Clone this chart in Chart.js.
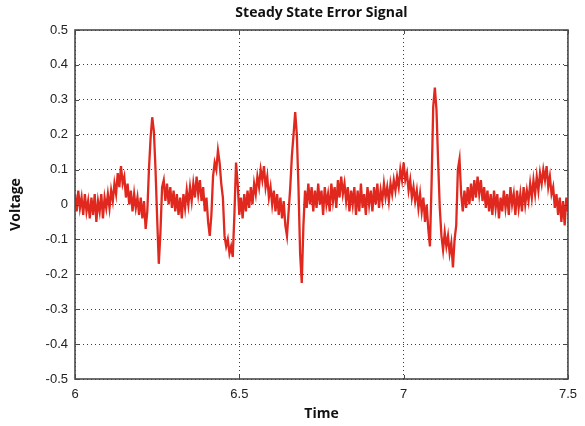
<!DOCTYPE html>
<html>
<head>
<meta charset="utf-8">
<script src="https://cdn.jsdelivr.net/npm/chart.js@4/dist/chart.umd.min.js"></script>
<style>
  html, body { margin: 0; padding: 0; background: #ffffff; }
  #wrap { width: 585px; height: 426px; }
</style>
</head>
<body>
<div id="wrap"><canvas id="c" width="585" height="426"></canvas></div>
<script>
// Sampled error voltage, one sample every 5 ms starting at t = 6 s
const startTime = 6.0;
const sampleStep = 0.005;
const voltage = [
  0.03, -0.02, 0.04, -0.01, 0.02, -0.03, 0.03, -0.02, 0.01, -0.04,
  0.02, -0.03, 0.03, -0.05, 0.01, -0.02, 0.03, -0.04, 0.02, -0.01,
  0.03, -0.01, 0.04, 0.01, 0.06, 0.03, 0.09, 0.05, 0.11, 0.06,
  0.08, 0.02, 0.06, 0.0, 0.04, -0.02, 0.03, -0.01, 0.02, -0.03,
  0.02, -0.04, 0.01, -0.07, -0.02, 0.1, 0.19, 0.25, 0.21, 0.1,
  -0.04, -0.17, -0.08, 0.05, 0.07, 0.01, 0.06, 0.0, 0.05, -0.01,
  0.04, -0.02, 0.03, -0.03, 0.02, -0.04, 0.03, -0.01, 0.04, 0.0,
  0.05, 0.01, 0.06, 0.02, 0.08, 0.03, 0.07, 0.01, 0.05, -0.02,
  0.02, -0.05, -0.09, -0.03, 0.08, 0.12, 0.1, 0.155, 0.12, 0.06,
  0.02, -0.09, -0.12, -0.1, -0.14, -0.12, -0.15, -0.03, 0.12, 0.06,
  -0.03, 0.02, -0.04, 0.03, -0.02, 0.04, -0.01, 0.05, 0.0, 0.06,
  0.03, 0.08, 0.05, 0.1, 0.07, 0.11, 0.05, 0.08, 0.02, 0.05,
  0.0, 0.04, -0.02, 0.03, -0.03, 0.02, -0.04, 0.01, -0.06, -0.09,
  -0.02, 0.05, 0.14, 0.2, 0.265, 0.2, 0.05, -0.14, -0.225, -0.06,
  0.04, -0.01, 0.06, 0.0, 0.05, -0.02, 0.04, -0.01, 0.06, 0.0,
  0.04, -0.03, 0.05, 0.0, 0.03, -0.02, 0.06, 0.01, 0.05, -0.01,
  0.07, 0.02, 0.08, 0.03, 0.06, 0.01, 0.05, -0.02, 0.04, 0.0,
  0.05, -0.03, 0.04, -0.02, 0.06, -0.01, 0.03, -0.03, 0.05, 0.0,
  0.04, -0.02, 0.05, 0.0, 0.06, -0.01, 0.04, 0.01, 0.06, 0.02,
  0.05, 0.01, 0.06, 0.03, 0.07, 0.04, 0.08, 0.05, 0.1, 0.07,
  0.12, 0.07, 0.09, 0.04, 0.07, 0.02, 0.05, 0.01, 0.04, -0.01,
  0.03, -0.02, 0.02, -0.05, 0.0, -0.07, -0.12, 0.06, 0.28, 0.335,
  0.27, 0.12, -0.01, -0.09, -0.13, -0.08, -0.12, -0.09, -0.14, -0.11,
  -0.18, -0.1, -0.06, 0.1, 0.13, 0.03, -0.02, 0.04, -0.01, 0.05,
  0.0, 0.06, 0.01, 0.07, 0.02, 0.08, 0.03, 0.07, 0.01, 0.05,
  -0.01, 0.04, -0.02, 0.03, -0.03, 0.04, -0.01, 0.03, -0.04, 0.02,
  -0.02, 0.04, -0.01, 0.03, -0.03, 0.05, 0.0, 0.03, -0.03, 0.04,
  -0.01, 0.03, -0.02, 0.05, 0.0, 0.04, 0.01, 0.06, 0.02, 0.07,
  0.03, 0.08, 0.04, 0.09, 0.06, 0.1, 0.07, 0.11, 0.05, 0.08,
  0.03, 0.05, -0.01, 0.03, -0.03, 0.02, -0.05, 0.01, -0.06, 0.02, -0.02
];
const timeTicks = [6, 6.5, 7, 7.5];
const voltageTicks = [-0.5, -0.4, -0.3, -0.2, -0.1, 0, 0.1, 0.2, 0.3, 0.4, 0.5];

const points = voltage.map((v, i) => ({ x: startTime + i * sampleStep, y: v }));

// Solid box round the plot with short inward tick marks on every side
const plotFrame = {
  id: 'plotFrame',
  afterDatasetsDraw(chart) {
    const { ctx, chartArea: a, scales: { x, y } } = chart;
    ctx.save();
    ctx.strokeStyle = '#4a4a4a';
    ctx.lineWidth = 1;
    ctx.beginPath();
    timeTicks.forEach(v => {
      const px = Math.round(x.getPixelForValue(v)) + 0.5;
      ctx.moveTo(px, a.top); ctx.lineTo(px, a.top + 4);
      ctx.moveTo(px, a.bottom); ctx.lineTo(px, a.bottom - 4);
    });
    voltageTicks.forEach(v => {
      const py = Math.round(y.getPixelForValue(v)) + 0.5;
      ctx.moveTo(a.left, py); ctx.lineTo(a.left + 4, py);
      ctx.moveTo(a.right, py); ctx.lineTo(a.right - 4, py);
    });
    ctx.stroke();
    ctx.lineWidth = 1.6;
    ctx.strokeRect(a.left, a.top, a.right - a.left, a.bottom - a.top);
    ctx.restore();
  }
};

const tickFont = { family: '"Liberation Sans", Arial, sans-serif', size: 13 };
const labelFont = { family: '"Open Sans", "Noto Sans", sans-serif', size: 14, weight: 'bold' };

new Chart(document.getElementById('c'), {
  type: 'line',
  data: {
    datasets: [{
      data: points,
      borderColor: '#e0281f',
      borderWidth: 2.3,
      borderJoinStyle: 'miter',
      pointRadius: 0,
      tension: 0,
      fill: false
    }]
  },
  options: {
    responsive: false,
    animation: false,
    devicePixelRatio: 1,
    layout: { padding: { left: 0, right: 17, top: 0, bottom: 0 } },
    plugins: {
      legend: { display: false },
      tooltip: { enabled: false },
      title: {
        display: true,
        text: 'Steady State Error Signal',
        fullSize: false,
        color: '#111',
        font: { family: '"Open Sans", "Noto Sans", sans-serif', size: 14, weight: 'bold' },
        padding: { top: 5, bottom: 8.2 }
      }
    },
    scales: {
      x: {
        type: 'linear',
        min: 6,
        max: 7.5,
        afterBuildTicks: s => { s.ticks = timeTicks.map(v => ({ value: v })); },
        afterFit: s => { s.height = 47; },
        ticks: {
          color: '#222',
          font: tickFont,
          padding: 8,
          maxRotation: 0,
          callback: v => String(v)
        },
        grid: { color: '#3c3c3c', lineWidth: 1, drawTicks: false },
        border: { display: false, dash: [1, 3] },
        title: { display: true, text: 'Time', color: '#111', font: labelFont, padding: { top: 0, bottom: 4 } }
      },
      y: {
        min: -0.5,
        max: 0.5,
        afterBuildTicks: s => { s.ticks = voltageTicks.map(v => ({ value: v })); },
        afterFit: s => { s.width = 75; },
        ticks: {
          color: '#222',
          font: tickFont,
          padding: 7,
          callback: v => String(v)
        },
        grid: { color: '#3c3c3c', lineWidth: 1, drawTicks: false },
        border: { display: false, dash: [1, 3] },
        title: { display: true, text: 'Voltage', color: '#111', font: labelFont, padding: { top: 8, bottom: 0 } }
      }
    }
  },
  plugins: [plotFrame]
});
</script>
</body>
</html>
